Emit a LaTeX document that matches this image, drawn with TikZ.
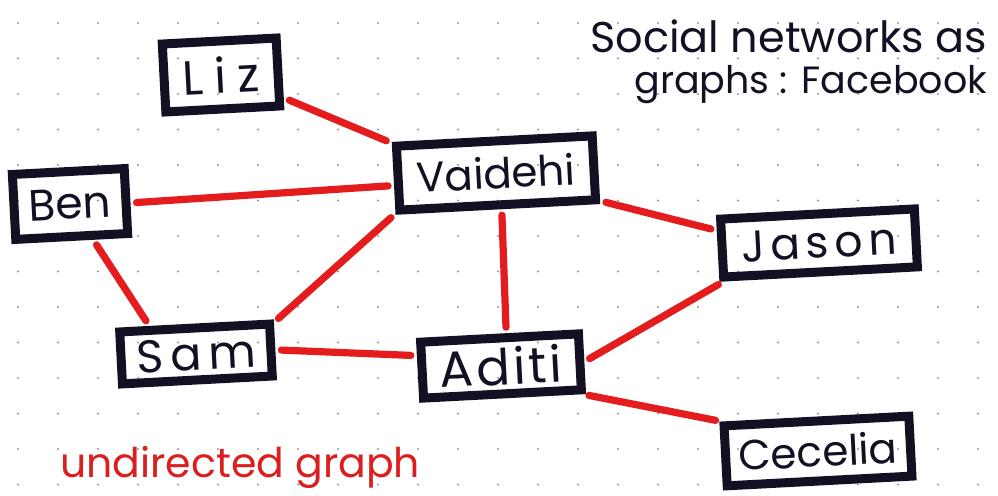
\documentclass[tikz,border=0pt]{standalone}
\usepackage{fontspec}
\setmainfont{Poppins}
\definecolor{boxc}{RGB}{18,16,34}
\definecolor{edgered}{RGB}{228,28,30}
\definecolor{dotc}{RGB}{150,150,150}
\definecolor{inkred}{RGB}{220,30,30}
\newcommand{\spaced}[2]{\addfontfeature{LetterSpace=#1}#2}
\tikzset{
  person/.style={draw=boxc, line width=4.5pt, rectangle, inner sep=0pt, rotate=3,
    font=\fontsize{22}{26}\selectfont, text=boxc},
  link/.style={draw=edgered, line width=3.6pt, line cap=round, shorten <=3pt, shorten >=3pt},
  handnote/.style={inner sep=0pt}
}
\begin{document}
\begin{tikzpicture}[x=0.5pt,y=-0.5pt]
\useasboundingbox (0,0) rectangle (998,496);
\fill[white] (0,0) rectangle (998,496);
% dot grid
\foreach \i in {0,...,24}{
  \foreach \j in {0,...,13}{
    \fill[dotc] ({18+40*\i},{23+35.5*\j}) circle (0.6pt);
  }
}
% people
\node[person, minimum width=57pt, minimum height=34pt, font=\fontsize{24}{28}\selectfont] (liz) at (221,75) {\spaced{24}{Liz}};
\node[person, minimum width=56pt, minimum height=32.5pt] (ben) at (70,204) {Ben};
\node[person, minimum width=98pt, minimum height=32pt, font=\fontsize{21}{26}\selectfont] (vaidehi) at (496,173) {Vaidehi};
\node[person, minimum width=97pt, minimum height=29pt] (jason) at (819,243) {\spaced{13}{Jason}};
\node[person, minimum width=75pt, minimum height=26pt, font=\fontsize{23}{26}\selectfont] (sam) at (196,354) {\spaced{15}{Sam}};
\node[person, minimum width=79pt, minimum height=28pt, font=\fontsize{25}{28}\selectfont] (aditi) at (501,366) {\spaced{6}{Aditi}};
\node[person, minimum width=92.5pt, minimum height=30pt, font=\fontsize{21}{26}\selectfont] (cecelia) at (818,451) {Cecelia};
% friendships
\draw[link] (liz.-23) -- (vaidehi.161);
\draw[link] (ben.-2) -- (vaidehi.184);
\draw[link] (ben.-60) -- (sam.146);
\draw[link] (sam.19) -- (vaidehi.199);
\draw[link] (sam.0) -- (aditi.170);
\draw[link] (vaidehi.-84) -- (aditi.78);
\draw[link] (vaidehi.-18) -- (jason.170);
\draw[link] (aditi.0) -- (jason.199);
\draw[link] (aditi.-22) -- (cecelia.160);
% notes
\node[handnote, anchor=base west, text=boxc, font=\fontsize{21.5}{24}\selectfont] (title1) at (590,53) {Social networks as};
\node[handnote, anchor=base west, text=boxc, font=\fontsize{19}{22}\selectfont] (title2) at (634,94) {graphs : Facebook};
\node[handnote, anchor=base west, text=inkred, font=\fontsize{20.5}{24}\selectfont] (kind) at (60,478) {undirected graph};
\end{tikzpicture}
\end{document}
